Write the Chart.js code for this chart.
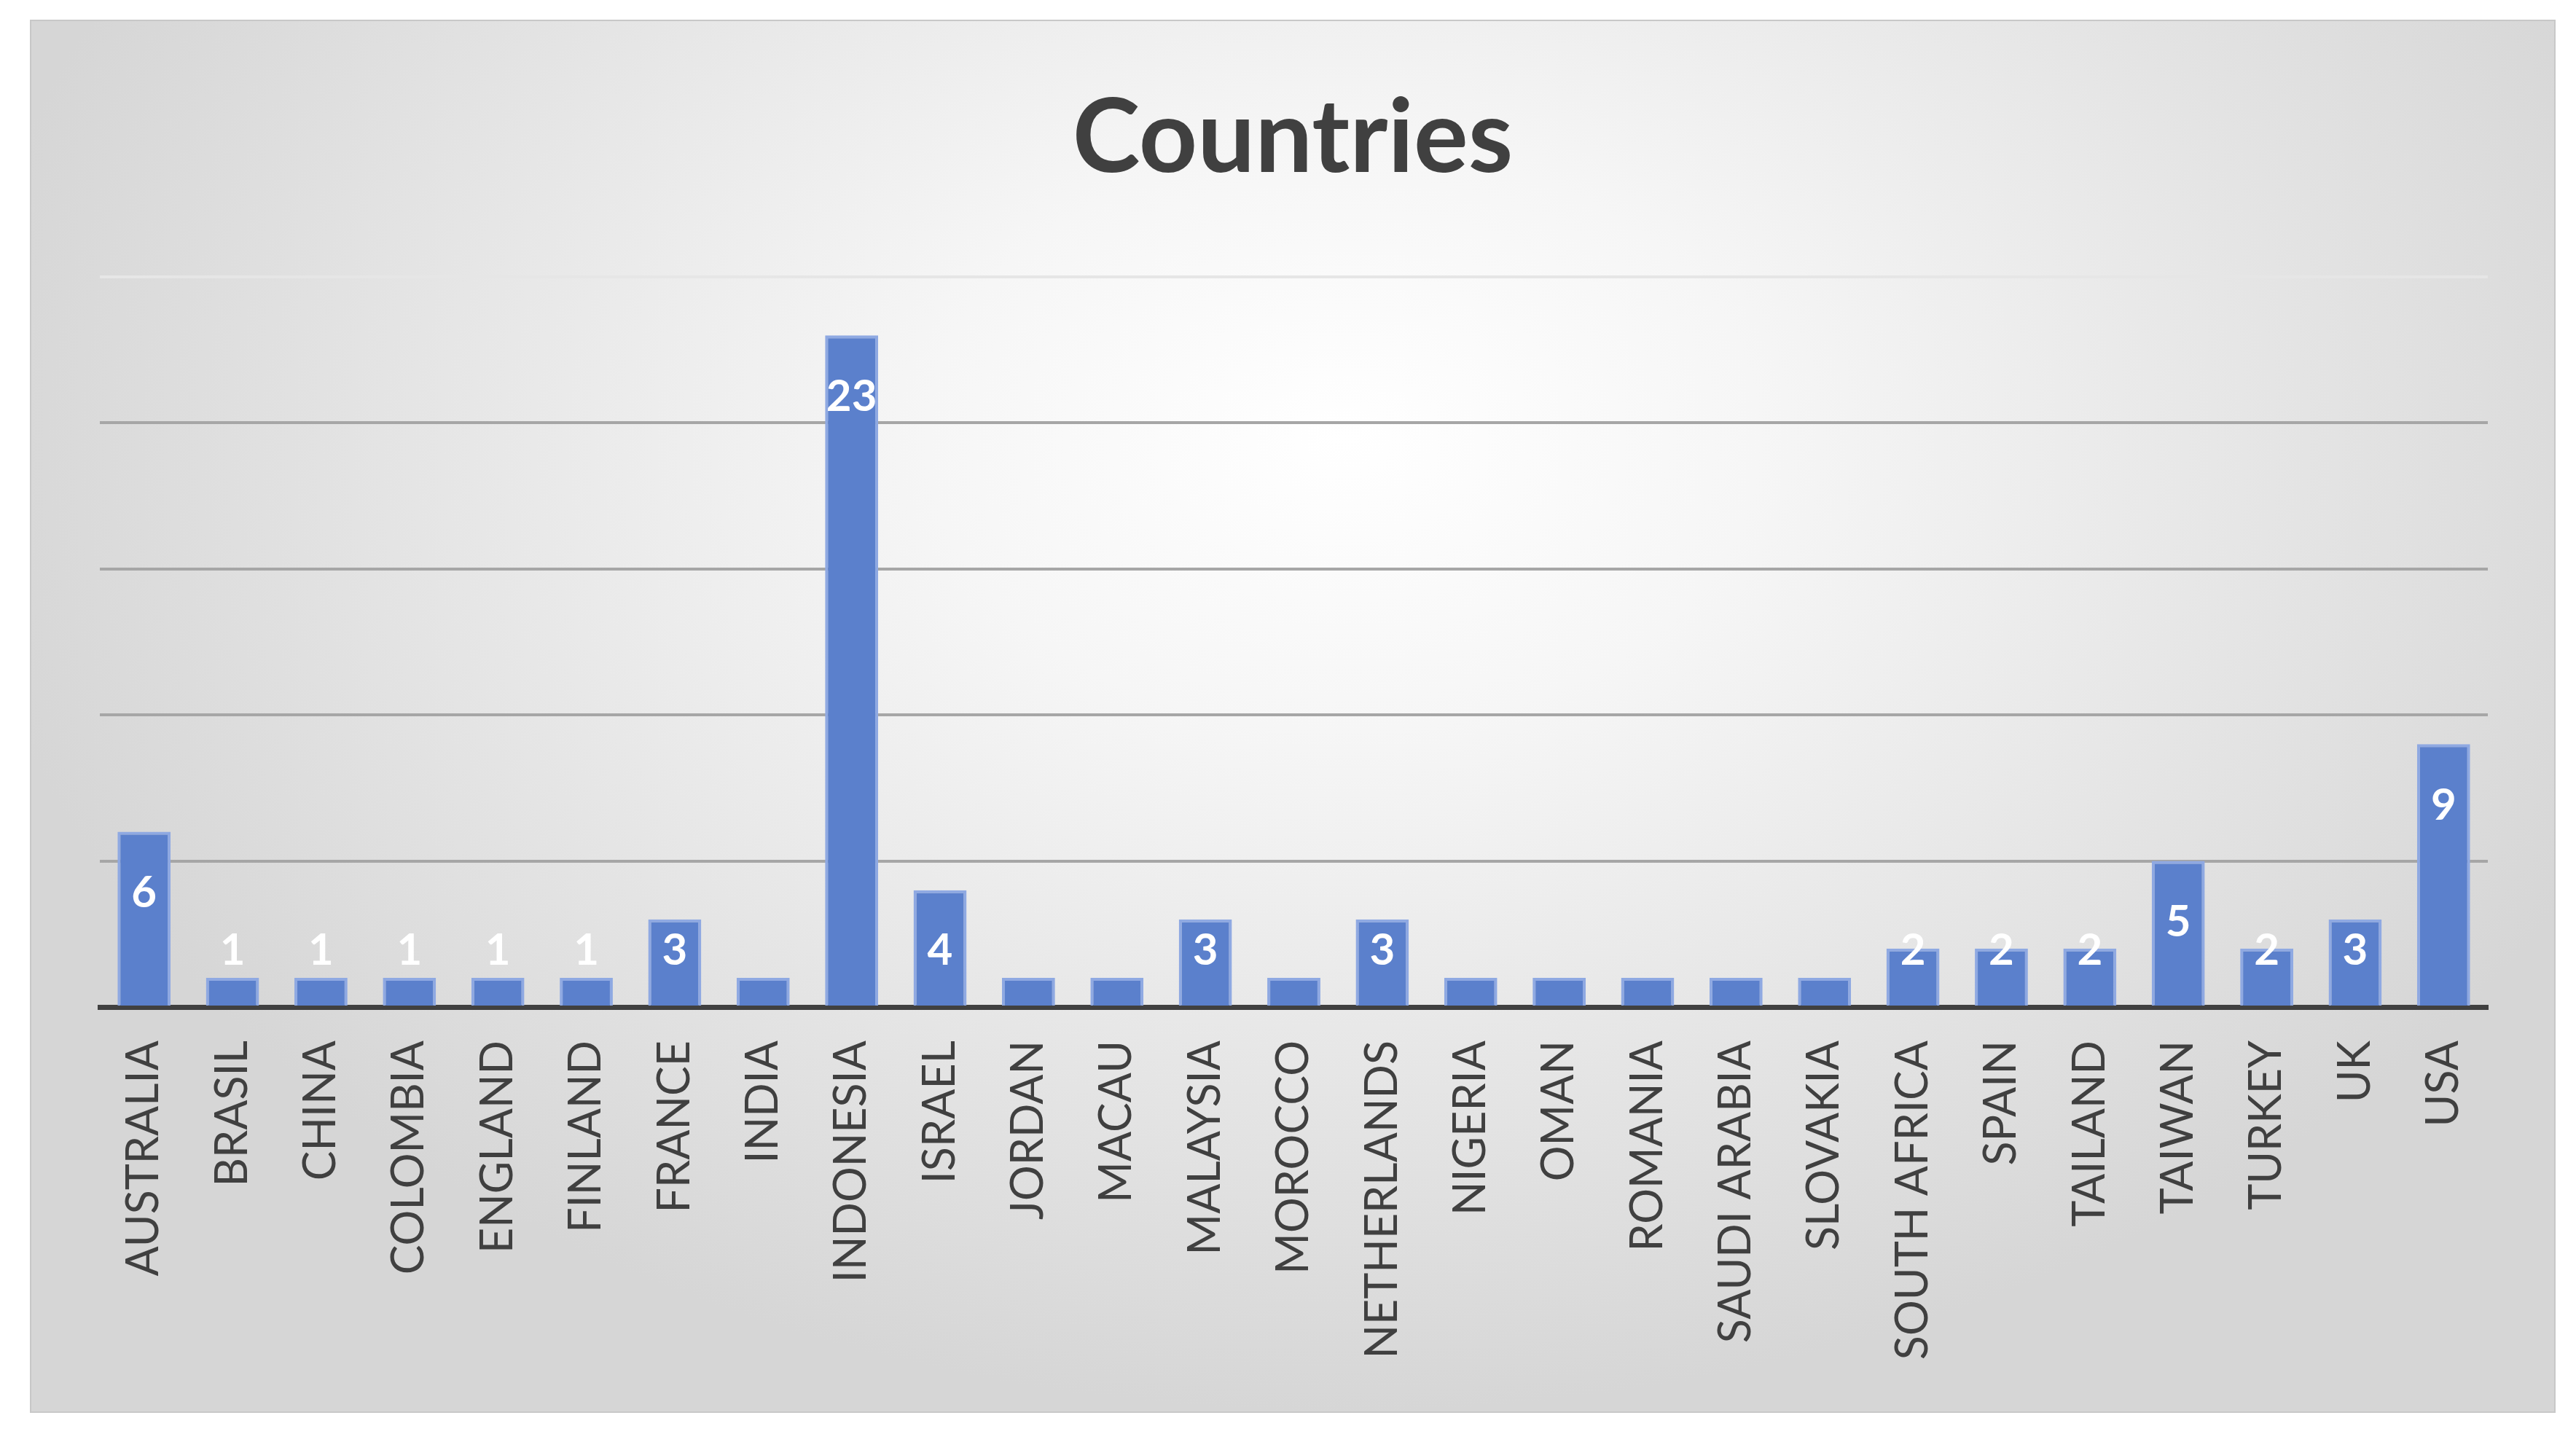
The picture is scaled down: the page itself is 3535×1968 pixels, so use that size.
<!DOCTYPE html>
<html><head><meta charset="utf-8">
<script src="https://cdn.jsdelivr.net/npm/chart.js@4/dist/chart.umd.min.js"></script>
<style>
html,body{margin:0;padding:0;width:3535px;height:1968px;background:#fff;overflow:hidden}
#frame{position:absolute;left:41px;top:27px;width:3462px;height:1908px;border:2px solid #c8c8c8;
background:radial-gradient(ellipse 55% 70% at 52% 30%,#ffffff 0%,#f6f6f6 30%,#d6d6d6 100%);}
#frame canvas{position:absolute;left:0;top:0}
</style></head><body>
<div id="frame"><canvas id="c" width="3462" height="1908"></canvas></div>
<script>
const categories=["AUSTRALIA","BRASIL","CHINA","COLOMBIA","ENGLAND","FINLAND","FRANCE","INDIA","INDONESIA","ISRAEL","JORDAN","MACAU","MALAYSIA","MOROCCO","NETHERLANDS","NIGERIA","OMAN","ROMANIA","SAUDI ARABIA","SLOVAKIA","SOUTH AFRICA","SPAIN","TAILAND","TAIWAN","TURKEY","UK","USA"];
const values=[6,1,1,1,1,1,3,1,23,4,1,1,3,1,3,1,1,1,1,1,2,2,2,5,2,3,9];
const valueLabels=["6","1","1","1","1","1","3","","23","4","","","3","","3","","","","","","2","2","2","5","2","3","9"];
const titleText="Countries";
const FONT="Lato, 'Open Sans', sans-serif";
const overlay={id:'overlay',afterDatasetsDraw(chart){
  const ctx=chart.ctx;const meta=chart.getDatasetMeta(0);const base=chart.scales.y.getPixelForValue(0);
  ctx.save();ctx.fillStyle='#ffffff';ctx.font="bold 60px "+FONT;ctx.textAlign='center';ctx.textBaseline='middle';
  meta.data.forEach((b,i)=>{if(!valueLabels[i])return;const y=Math.min(b.y+84,base-77);ctx.fillText(valueLabels[i],b.x,y);});
  ctx.fillStyle='#404040';ctx.font="bold 140px "+FONT;ctx.fillText(titleText,chart.width/2,162);
  ctx.restore();}};
new Chart(document.getElementById('c'),{type:'bar',
 data:{labels:categories,datasets:[{data:values,backgroundColor:'#5b80cc',borderColor:'#8fa9e2',borderWidth:4,barPercentage:0.6,categoryPercentage:1}]},
 options:{responsive:false,animation:false,
  layout:{padding:{left:94,right:91,top:351,bottom:0}},
  plugins:{legend:{display:false},tooltip:{enabled:false}},
  scales:{
   x:{grid:{display:false},border:{color:'#404040',width:7},
      ticks:{color:'#404040',font:{size:61,family:FONT},maxRotation:90,minRotation:90,padding:38},
      afterFit(s){s.height=555;}},
   y:{min:0,max:25,ticks:{display:false,stepSize:5},border:{display:false},
      grid:{color:(c)=>c.tick.value===0?'rgba(0,0,0,0)':(c.tick.value===25?'#e6e6e6':'#a6a6a6'),lineWidth:4,drawTicks:false}}
  }},plugins:[overlay]});
</script></body></html>
